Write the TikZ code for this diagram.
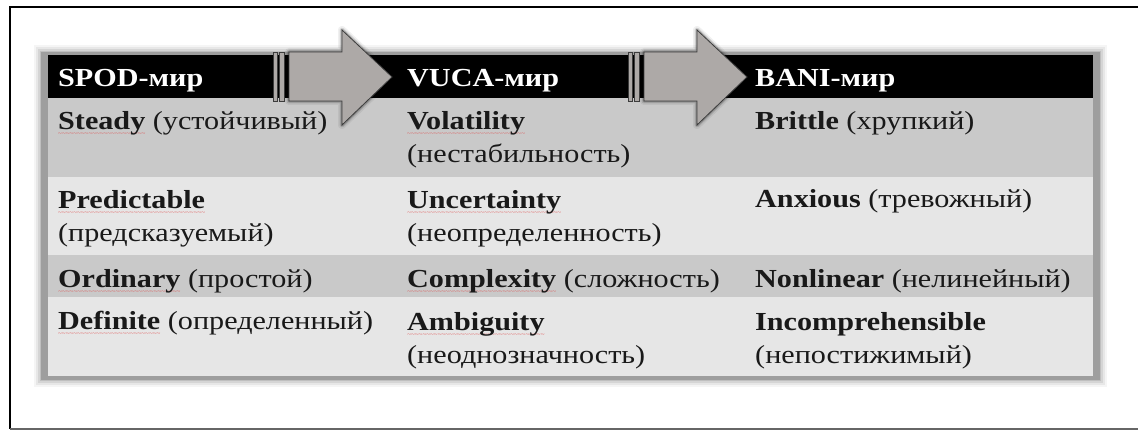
\documentclass[tikz,border=0pt]{standalone}
\usepackage{fontspec}
\setmainfont{Liberation Serif}[FakeStretch=1.16]
\usepackage{tikz}

\definecolor{rowdark}{HTML}{C9C9C9}
\definecolor{rowlight}{HTML}{E6E6E6}
\definecolor{arrowfill}{HTML}{ADA9A7}
\definecolor{arrowline}{HTML}{3C3C3C}
\definecolor{spellred}{HTML}{E04848}

% red wavy underline, as under the flagged words
\newcommand\spellerr[1]{\setbox0=\hbox{#1}%
  \rlap{\lower6pt\hbox to \wd0{\color{spellred}\fontsize{6}{6}\selectfont
    \xleaders\hbox{\char"7E}\hfil}}#1}

% one of the two grey arrows, #1 = left end of its stripes
\newcommand\worldarrow[1]{%
  \foreach \w/\o in {8/0.06,5/0.1,3/0.18}
    \draw[line width=\w pt,black,opacity=\o,line join=round]
      ({#1+16},52)--({#1+69},52)--({#1+69},30)--({#1+119},77)--({#1+69},125)--({#1+69},101)--({#1+16},101)--cycle;
  \draw[bigarrow] (#1,52) rectangle ({#1+4},101);
  \draw[bigarrow] ({#1+6},52) rectangle ({#1+11},101);
  \draw[bigarrow]
    ({#1+16},52)--({#1+69},52)--({#1+69},30)--({#1+119},77)--({#1+69},125)--({#1+69},101)--({#1+16},101)--cycle;
}

\tikzset{
  cell/.style={anchor=base west,inner sep=0pt,align=left,text=black!90,
    font=\fontsize{26}{33}\selectfont},
  head/.style={anchor=base west,inner sep=0pt,text=white,
    font=\fontsize{26}{33}\selectfont\bfseries},
  bigarrow/.style={fill=arrowfill,draw=arrowline,line width=0.8pt,line join=miter},
}

\begin{document}
\begin{tikzpicture}[x=1pt,y=-1pt]
  \useasboundingbox (0,0) rectangle (1138,430);
  % frame
  \draw[line width=2.5pt,black] (1138,7)--(10,7)--(10,429);
  \draw[line width=1.5pt,black!60] (10,429)--(1138,429);

  % shadow of the table
  \foreach \d/\o in {7/0.04,5/0.06,3/0.08,1/0.1}
    \fill[black,opacity=\o] (41-\d,52-\d) rectangle (1100+\d,380+\d);
  \fill[black!38] (41,52) rectangle (1100,380);

  % rows
  \fill[black]    (48,55)  rectangle (1093,98);
  \fill[rowdark]  (48,98)  rectangle (1093,177);
  \fill[rowlight] (48,177) rectangle (1093,255);
  \fill[rowdark]  (48,255) rectangle (1093,297);
  \fill[rowlight] (48,297) rectangle (1093,376);

  % headers
  \node[head] (spod) at (58,87)  {SPOD-мир};
  \node[head] (vuca) at (407,87) {VUCA-мир};
  \node[head] (bani) at (755,87) {BANI-мир};

  \worldarrow{273}
  \worldarrow{628}

  % SPOD (two-line cells sit on their last line)
  \node[cell] (steady) at (58,130) {\spellerr{\textbf{Steady}} (устойчивый)};
  \node[cell] (predictable) at (58,242) {\spellerr{\textbf{Predictable}}\\(предсказуемый)};
  \node[cell] (ordinary) at (58,288) {\spellerr{\textbf{Ordinary}} (простой)};
  \node[cell] (definite) at (58,330) {\spellerr{\textbf{Definite}} (определенный)};
  % VUCA
  \node[cell] (volatility) at (407,163) {\spellerr{\textbf{Volatility}}\\(нестабильность)};
  \node[cell] (uncertainty) at (407,242) {\spellerr{\textbf{Uncertainty}}\\(неопределенность)};
  \node[cell] (complexity) at (407,288) {\spellerr{\textbf{Complexity}} (сложность)};
  \node[cell] (ambiguity) at (407,363) {\spellerr{\textbf{Ambiguity}}\\(неоднозначность)};
  % BANI
  \node[cell] (brittle) at (755,130) {\textbf{Brittle} (хрупкий)};
  \node[cell] (anxious) at (755,208) {\textbf{Anxious} (тревожный)};
  \node[cell] (nonlinear) at (755,288) {\textbf{Nonlinear} (нелинейный)};
  \node[cell] (incomprehensible) at (755,363) {\textbf{Incomprehensible}\\(непостижимый)};
\end{tikzpicture}
\end{document}
